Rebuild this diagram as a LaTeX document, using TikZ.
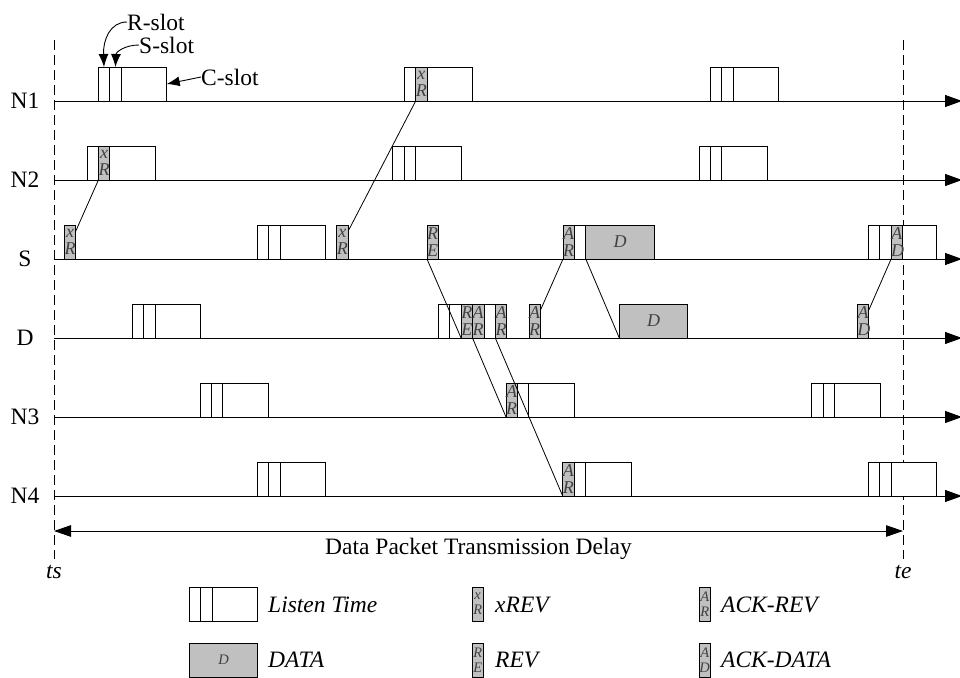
\documentclass[tikz,border=0pt]{standalone}
\usepackage{fontspec}
\setmainfont{Liberation Serif}
\usetikzlibrary{arrows.meta,positioning}
\definecolor{pktgray}{RGB}{192,192,192}
\newcommand{\lblfont}{\fontsize{23.5}{27}\selectfont}
\newcommand{\pktfont}{\fontsize{18}{16.5}\selectfont\itshape}
\newcommand{\keyfont}{\fontsize{14.5}{15}\selectfont\itshape}

\begin{document}
\begin{tikzpicture}[x=1pt, y=-1pt,
  slot/.style={rectangle, draw, fill=white, line width=0.8pt, inner sep=0pt, outer sep=0pt, anchor=south west, minimum width=11.4pt, minimum height=34pt},
  cslot/.style={slot, minimum width=45.6pt},
  pkt/.style={slot, fill=pktgray, text width=11.4pt, align=center, text=black!75, font=\pktfont},
  datapkt/.style={pkt, text width=68.4pt, minimum width=68.4pt},
  lbl/.style={inner sep=0pt, font=\lblfont},
  keytext/.style={lbl, anchor=west, font=\lblfont\itshape},
  timeline/.style={-{Triangle[length=17pt,width=12pt]}, line width=1pt},
  delayspan/.style={{Triangle[length=17pt,width=11.5pt]}-{Triangle[length=17pt,width=11.5pt]}, line width=1pt},
  bound/.style={dash pattern=on 10pt off 5pt, line width=0.9pt},
  msg/.style={line width=0.8pt},
  pointer/.style={-{Latex[length=13pt,width=10pt]}, line width=0.9pt}
]
\useasboundingbox (0,0) rectangle (960,677);
\coordinate (ts-top) at (54,40);
\coordinate (ts-bot) at (54,559);
\coordinate (te-top) at (903,40);
\coordinate (te-bot) at (903,559);
\draw[bound] (ts-top) -- (ts-bot);
\draw[bound] (te-top) -- (te-bot);
\foreach \nd/\y in {N1/101, N2/180, S/259, D/338, N3/417, N4/496} {
  \node[lbl] (\nd) at (25,\y) {\nd};
  \coordinate (\nd-a) at (54,\y);
  \coordinate (\nd-b) at (962,\y);
  \draw[timeline] (\nd-a) -- (\nd-b);
}
\foreach \nm/\x/\y in {n1a/98.3/101, n1b/404.3/101, n1c/710.3/101, n2a/87/180, n2b/392.7/180, n2c/699/180,
    sa/257.3/259, sb/563/259, sc/868.3/259, da/132.3/338, db/438.3/338,
    n3a/200/417, n3b/506/417, n3c/811.7/417, n4a/257.3/496, n4b/562.7/496, n4c/868.3/496, lg/189.3/621} {
  \node[slot] (\nm-r) at (\x,\y) {};
  \node[slot] (\nm-s) at (\nm-r.south east) {};
  \node[cslot] (\nm-c) at (\nm-s.south east) {};
}
\node[pkt] (sx1) at (64.3,259) {x\\R};
\node[pkt] (n2x) at (n2a-s.south west) {x\\R};
\node[pkt] (sx2) at (336.7,259) {x\\R};
\node[pkt] (n1x) at (n1b-s.south west) {x\\R};
\node[pkt] (sre) at (427,259) {R\\E};
\node[pkt] (dre) at (db-c.south west) {R\\E};
\node[pkt] (dar1) at (dre.south east) {A\\R};
\node[pkt, anchor=south east] (dar2) at (db-c.south east) {A\\R};
\node[pkt] (dar3) at (529,338) {A\\R};
\node[pkt] (sar) at (sb-r.south west) {A\\R};
\node[datapkt] (sd) at (sb-s.south east) {D};
\node[datapkt] (dd) at (619.3,338) {D};
\node[pkt] (dad) at (857.3,338) {A\\D};
\node[pkt] (sad) at (sc-c.south west) {A\\D};
\node[pkt] (n3ar) at (n3b-r.south west) {A\\R};
\node[pkt] (n4ar) at (n4b-r.south west) {A\\R};
\draw[msg] (sx1.62) -- (n2x.south west);
\draw[msg] (sx2.62) -- (n1x.south west);
\draw[msg] (sre.south west) -- (dre.south west);
\draw[msg] (dar1.south west) -- (n3ar.south west);
\draw[msg] (dar2.south west) -- (n4ar.south west);
\draw[msg] (dar3.62) -- (sar.south west);
\draw[msg] (sd.south west) -- (dd.south west);
\draw[msg] (sad.south west) -- (dad.62);
\node[lbl, anchor=west] (rlab) at (127,22) {R-slot};
\node[lbl, anchor=west] (slab) at (139,45) {S-slot};
\node[lbl, anchor=west] (clab) at (201,77) {C-slot};
\draw[pointer] (rlab.west) .. controls (110,22) and (103,40) .. (n1a-r.north);
\draw[pointer] (slab.west) .. controls (125,45) and (116,52) .. (n1a-s.north);
\draw[pointer] (clab.west) -- (n1a-c.east);
\coordinate (span-a) at (54,531);
\coordinate (span-b) at (903,531);
\draw[delayspan] (span-a) -- (span-b);
\node[lbl] (delay) at (478.5,549) {Data Packet Transmission Delay};
\node[lbl, font=\lblfont\itshape] (ts) at (54,572) {ts};
\node[lbl, font=\lblfont\itshape] (te) at (903,572) {te};
\node[keytext] (lgt) at (268,604.5) {Listen Time};
\node[pkt, font=\keyfont] (lgx) at (472,621) {x\\R};
\node[keytext] (lgxt) at (495,604.5) {xREV};
\node[pkt, font=\keyfont] (lgar) at (699,621) {A\\R};
\node[keytext] (lgart) at (721,604.5) {ACK-REV};
\node[datapkt, font=\keyfont] (lgd) at (189.3,677) {D};
\node[keytext] (lgdt) at (268,660) {DATA};
\node[pkt, font=\keyfont] (lgre) at (472,677) {R\\E};
\node[keytext] (lgret) at (495,660) {REV};
\node[pkt, font=\keyfont] (lgad) at (699,677) {A\\D};
\node[keytext] (lgadt) at (721,660) {ACK-DATA};
\end{tikzpicture}
\end{document}
